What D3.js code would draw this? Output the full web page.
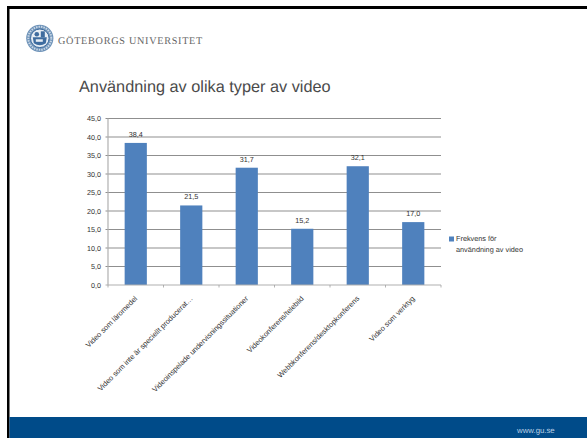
<!DOCTYPE html>
<html>
<head>
<meta charset="utf-8">
<script src="https://cdnjs.cloudflare.com/ajax/libs/d3/7.8.5/d3.min.js"></script>
<style>
  html, body { margin: 0; padding: 0; background: #fff; }
  svg { display: block; }
  text { text-rendering: geometricPrecision; }
</style>
</head>
<body>
<svg id="slide" width="587" height="438" style="opacity:0.999"></svg>
<script>
const categories = [
  'Video som läromedel',
  'Video som inte är speciellt producerat…',
  'Videoinspelade undervisningssituationer',
  'Videokonferens/telebild',
  'Webbkonferens/desktopkonferens',
  'Video som verktyg'
]
const values = [38.4, 21.5, 31.7, 15.2, 32.1, 17.0]
const yTicks = [0, 5, 10, 15, 20, 25, 30, 35, 40, 45]
const legendLines = ['Frekvens för', 'användning av video']

const svg = d3.select('#slide')
const fmt = v => v.toFixed(1).replace('.', ',')
const small = '7.2px "Liberation Sans"'

// slide frame and footer
svg.append('rect').attr('width', 587).attr('height', 438).attr('fill', '#fff')
svg.append('rect').attr('x', 7).attr('y', 6).attr('width', 580).attr('height', 3).attr('fill', '#000')
svg.append('rect').attr('x', 7).attr('y', 6).attr('width', 2.5).attr('height', 432).attr('fill', '#000')
svg.append('rect').attr('x', 9.5).attr('y', 417).attr('width', 577.5).attr('height', 21).attr('fill', '#004b89')
svg.append('text').attr('x', 517).attr('y', 433)
  .style('font', '7.8px "Liberation Sans"').style('fill', '#b9cfe4').text('www.gu.se')

// university seal
const seal = svg.append('g').attr('transform', 'translate(39.8,38.3)')
seal.append('circle').attr('r', 13.6).attr('fill', '#6d92b8')
seal.append('circle').attr('r', 11.5).attr('fill', 'none')
  .attr('stroke', '#c9d7e6').attr('stroke-width', 2).attr('stroke-dasharray', '1.5 1')
seal.append('circle').attr('r', 9.3).attr('fill', '#e6edf4').attr('stroke', '#3e6c9f').attr('stroke-width', 1)
seal.append('path').attr('d', 'M-7,-1 L7,-1 L6,5 Q0,9 -6,5 Z').attr('fill', '#3e6c9f')
seal.append('circle').attr('cx', -3).attr('cy', -4).attr('r', 2.3).attr('fill', '#3e6c9f')
seal.append('rect').attr('x', 1).attr('y', -7).attr('width', 4).attr('height', 6).attr('fill', '#3e6c9f')
seal.append('rect').attr('x', -4).attr('y', 1).attr('width', 7).attr('height', 2.5).attr('fill', '#e6edf4')

svg.append('text').attr('x', 58).attr('y', 43.5)
  .style('font', '10.2px "Liberation Serif"').style('letter-spacing', '0.72px').style('fill', '#666')
  .text('GÖTEBORGS UNIVERSITET')

svg.append('text').attr('x', 79).attr('y', 92)
  .style('font', '16.3px "Liberation Sans"').style('fill', '#4a4a4a')
  .text('Användning av olika typer av video')

// chart
const x = d3.scaleBand().domain(categories).range([108, 441]).paddingInner(0.6).paddingOuter(0.3)
const outer = d3.scaleBand().domain(categories).range([108, 441])
const y = d3.scaleLinear().domain([0, 45]).range([285, 118.5])

svg.append('g').selectAll('line')
  .data(yTicks.filter(d => d > 0))
  .join('line')
  .attr('x1', 105.5).attr('x2', 441)
  .attr('y1', d => y(d)).attr('y2', d => y(d))
  .attr('stroke', '#8f8f8f').attr('stroke-width', 1)

svg.append('g').selectAll('text')
  .data(yTicks)
  .join('text')
  .attr('x', 101).attr('y', d => y(d) + 2.5)
  .attr('text-anchor', 'end')
  .style('font', small).style('fill', '#333')
  .text(fmt)

svg.append('g').selectAll('rect')
  .data(values)
  .join('rect')
  .attr('x', (d, i) => x(categories[i]))
  .attr('width', x.bandwidth())
  .attr('y', d => y(d))
  .attr('height', d => y(0) - y(d))
  .attr('fill', '#4f81bd')

// axes
svg.append('line').attr('x1', 108).attr('x2', 108).attr('y1', 118.5).attr('y2', 285)
  .attr('stroke', '#b0b0b0').attr('stroke-width', 1.2)
svg.append('line').attr('x1', 105.5).attr('x2', 441).attr('y1', 285).attr('y2', 285)
  .attr('stroke', '#b0b0b0').attr('stroke-width', 1.2)
svg.append('g').selectAll('line')
  .data(categories.concat(['end']))
  .join('line')
  .attr('x1', (d, i) => i < 6 ? outer(d) : 441)
  .attr('x2', (d, i) => i < 6 ? outer(d) : 441)
  .attr('y1', 285).attr('y2', 287.5)
  .attr('stroke', '#a0a0a0').attr('stroke-width', 0.8)

svg.append('g').selectAll('text')
  .data(values)
  .join('text')
  .attr('x', (d, i) => x(categories[i]) + x.bandwidth() / 2)
  .attr('y', d => y(d) - 6)
  .attr('text-anchor', 'middle')
  .style('font', small).style('fill', '#333')
  .text(fmt)

svg.append('g').selectAll('text')
  .data(categories)
  .join('text')
  .attr('text-anchor', 'end')
  .attr('transform', d => `translate(${x(d) + x.bandwidth() / 2 + 2},${299}) rotate(-45)`)
  .style('font', '7.4px "Liberation Sans"').style('fill', '#333')
  .text(d => d)

// legend
svg.append('rect').attr('x', 449).attr('y', 236.5).attr('width', 5).attr('height', 5).attr('fill', '#4f81bd')
svg.append('g').selectAll('text')
  .data(legendLines)
  .join('text')
  .attr('x', 456)
  .attr('y', (d, i) => 241 + i * 10.5)
  .style('font', '7.3px "Liberation Sans"').style('fill', '#333')
  .text(d => d)
</script>
</body>
</html>
